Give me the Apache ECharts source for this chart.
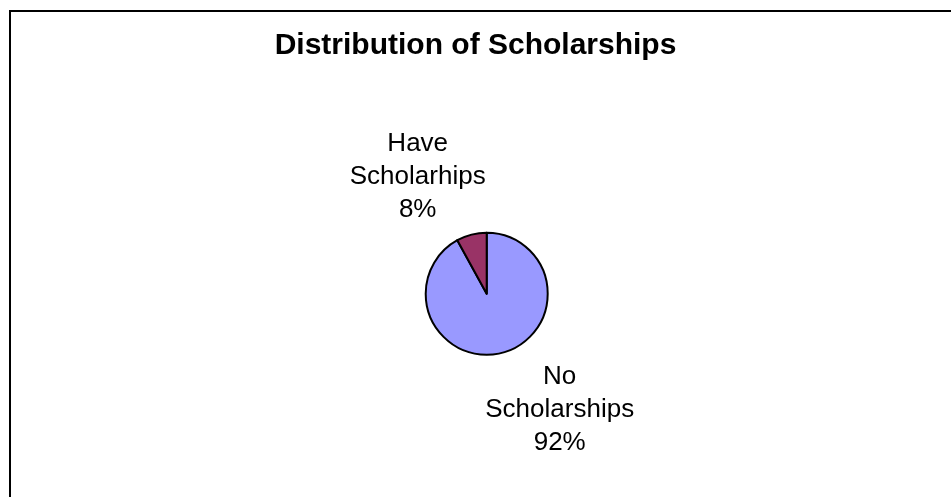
<!DOCTYPE html>
<html>
<head>
<meta charset="utf-8">
<title>Distribution of Scholarships</title>
<script src="https://cdn.jsdelivr.net/npm/echarts@6/dist/echarts.min.js"></script>
<style>
    html, body { margin: 0; padding: 0; background: #fff; }
    #chart { width: 951px; height: 497px; }
</style>
</head>
<body>
<div id="chart"></div>
<script>
// 数据
var sliceNames = ['No Scholarships', 'Have Scholarhips'];
var sliceValues = [92, 8];
var sliceColors = ['#9999FF', '#993366'];

var cx = 486.7, cy = 293.7;
// 标签相对圆心的偏移
var labelOffsets = [[73, 116], [-69, -117]];

var chart = echarts.init(document.getElementById('chart'));

var option = {
    backgroundColor: '#fff',
    animation: false,
    //1.标题
    title: {
        text: 'Distribution of Scholarships',
        left: 'center',
        top: 31,
        padding: 0,
        textStyle: {
            fontFamily: 'Liberation Sans, Arial, sans-serif',
            fontWeight: 'bold',
            fontSize: 30,
            color: '#000'
        }
    },
    //2.外框
    graphic: [{
        type: 'rect',
        shape: { x: 10, y: 11, width: 960, height: 510 },
        style: { fill: 'none', stroke: '#000', lineWidth: 2 },
        silent: true
    }],
    //3.饼图
    series: [{
        type: 'pie',
        center: [cx, cy],
        radius: 61,
        startAngle: 90,
        clockwise: true,
        avoidLabelOverlap: false,
        itemStyle: { borderColor: '#000', borderWidth: 2 },
        label: {
            show: true,
            position: 'outside',
            fontFamily: 'Liberation Sans, Arial, sans-serif',
            fontSize: 26,
            lineHeight: 33,
            color: '#000',
            align: 'center',
            formatter: function (p) {
                return p.name.replace(' ', '\n') + '\n' + Math.round(p.percent) + '%';
            }
        },
        labelLine: { show: false },
        labelLayout: function (params) {
            var o = labelOffsets[params.dataIndex];
            return { x: cx + o[0], y: cy + o[1], align: 'center', verticalAlign: 'middle' };
        },
        emphasis: { disabled: true },
        data: sliceNames.map(function (n, i) {
            return { name: n, value: sliceValues[i], itemStyle: { color: sliceColors[i] } };
        })
    }]
};
chart.setOption(option, true);
</script>
</body>
</html>
